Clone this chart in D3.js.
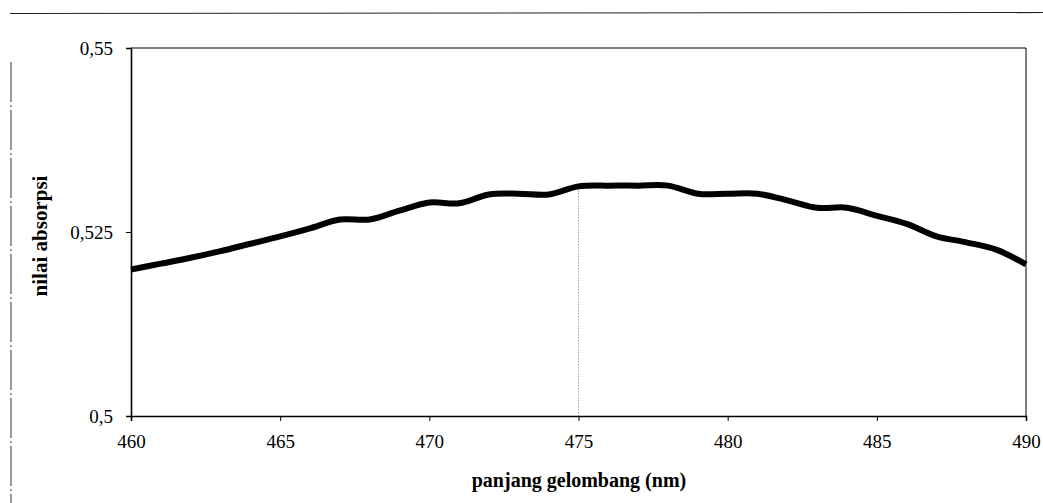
<!DOCTYPE html>
<html>
<head>
<meta charset="utf-8">
<script src="https://cdn.jsdelivr.net/npm/d3@7/dist/d3.min.js"></script>
<style>
  html, body { margin: 0; padding: 0; background: #fff; }
  svg { display: block; }
</style>
</head>
<body>
<svg id="chart" width="1043" height="503"></svg>
<script>
// ---- data ----
const wavelengths = [460,461,462,463,464,465,466,467,468,469,470,471,472,473,474,475,476,477,478,479,480,481,482,483,484,485,486,487,488,489,490];
const absorbance = [0.5199,0.5207,0.5215,0.5224,0.5234,0.5244,0.5255,0.5267,0.5267,0.5279,0.5290,0.5289,0.5301,0.5302,0.5301,0.5312,0.5313,0.5313,0.5313,0.5302,0.5302,0.5302,0.5293,0.5283,0.5283,0.5272,0.5261,0.5244,0.5236,0.5226,0.5206];
const xTicks = [460,465,470,475,480,485,490];
const yTicks = [0.5,0.525,0.55];
const yTickLabels = ["0,5","0,525","0,55"];
const peakWavelength = 475;
const xTitle = "panjang gelombang (nm)";
const yTitle = "nilai absorpsi";

// ---- layout ----
const svg = d3.select("#chart");
const L = 131, R = 1026, T = 48, B = 416;
const x = d3.scaleLinear().domain([460, 490]).range([L, R]);
const y = d3.scaleLinear().domain([0.5, 0.55]).range([B, T]);
const serif = "'Liberation Serif','Times New Roman',serif";

// scan artifacts (page border lines)
svg.append("line").attr("x1", 10).attr("x2", 1043).attr("y1", 13.5).attr("y2", 12.5)
  .attr("stroke", "#222").attr("stroke-width", 1.2);
svg.append("line").attr("x1", 11).attr("x2", 11).attr("y1", 62).attr("y2", 503)
  .attr("stroke", "#333").attr("stroke-width", 1).attr("stroke-dasharray", "40,3,2,3");

// frame
svg.append("line").attr("x1", L).attr("x2", R).attr("y1", T).attr("y2", T)
  .attr("stroke", "#000").attr("stroke-width", 1);
svg.append("line").attr("x1", R).attr("x2", R).attr("y1", T).attr("y2", B)
  .attr("stroke", "#000").attr("stroke-width", 1);

// axes
const xAxis = d3.axisBottom(x).tickValues(xTicks).tickSize(5).tickPadding(14).tickFormat(d3.format("d"));
const gx = svg.append("g").attr("transform", `translate(0,${B})`).call(xAxis);
gx.select(".domain").attr("stroke-width", 1.6);
gx.selectAll(".tick line").attr("stroke-width", 1);
gx.selectAll("text").attr("font-family", serif).attr("font-size", 19).attr("fill", "#000");

const yAxis = d3.axisLeft(y).tickValues(yTicks).tickSize(5).tickPadding(13)
  .tickFormat((d, i) => yTickLabels[i]);
const gy = svg.append("g").attr("transform", `translate(${L},0)`).call(yAxis);
gy.select(".domain").attr("stroke-width", 1.6);
gy.selectAll("text").attr("font-family", serif).attr("font-size", 19).attr("fill", "#000");

// dotted peak line
const peakIdx = wavelengths.indexOf(peakWavelength);
svg.append("line")
  .attr("x1", x(peakWavelength)).attr("x2", x(peakWavelength))
  .attr("y1", y(absorbance[peakIdx]) + 4).attr("y2", B)
  .attr("stroke", "#777").attr("stroke-width", 1).attr("stroke-dasharray", "1,2");

// data line
const line = d3.line()
  .x((d, i) => x(wavelengths[i]))
  .y(d => y(d))
  .curve(d3.curveCatmullRom.alpha(0.5));
svg.append("path").datum(absorbance)
  .attr("d", line)
  .attr("fill", "none").attr("stroke", "#000")
  .attr("stroke-width", 6).attr("stroke-linejoin", "round").attr("stroke-linecap", "butt");

// titles
svg.append("text").attr("x", 579).attr("y", 487).attr("text-anchor", "middle")
  .attr("font-family", serif).attr("font-weight", "bold").attr("font-size", 20)
  .text(xTitle);
svg.append("text").attr("transform", "translate(47,236) rotate(-90)").attr("text-anchor", "middle")
  .attr("font-family", serif).attr("font-weight", "bold").attr("font-size", 21)
  .text(yTitle);
</script>
</body>
</html>
